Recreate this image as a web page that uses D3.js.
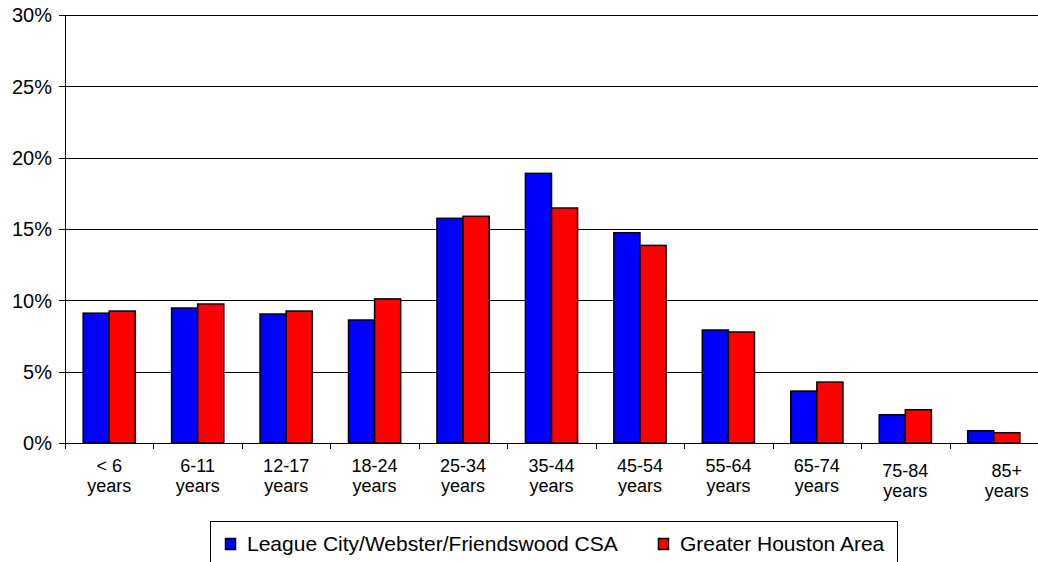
<!DOCTYPE html>
<html>
<head>
<meta charset="utf-8">
<script src="https://cdn.jsdelivr.net/npm/d3@7"></script>
<style>
  body { margin: 0; background: #fff; }
  text { font-family: "Liberation Sans", Arial, sans-serif; fill: #000; }
</style>
</head>
<body>
<svg id="chart"></svg>
<script>
(function () {
  'use strict';

  const categories = ["< 6|years", "6-11|years", "12-17|years", "18-24|years", "25-34|years",
    "35-44|years", "45-54|years", "55-64|years", "65-74|years", "75-84|years", "85+|years"];
  const seriesNames = ["League City/Webster/Friendswood CSA", "Greater Houston Area"];
  const leagueCity = [9.1, 9.46, 9.04, 8.62, 15.75, 18.9, 14.74, 7.92, 3.64, 1.98, 0.86];
  const houston = [9.25, 9.74, 9.25, 10.1, 15.89, 16.47, 13.85, 7.78, 4.27, 2.33, 0.72];
  const yTicks = [0, 5, 10, 15, 20, 25, 30];
  const colors = ["#0000ff", "#ff0000"];

  const width = 1038, height = 562;
  const margin = { top: 15, right: 0, bottom: 119, left: 65 };
  const innerW = width - margin.left - margin.right;
  const innerH = height - margin.top - margin.bottom;

  const svg = d3.select("#chart")
    .attr("width", width)
    .attr("height", height);

  const g = svg.append("g")
    .attr("transform", `translate(${margin.left},${margin.top})`);

  const x = d3.scaleBand()
    .domain(categories)
    .range([0, innerW])
    .paddingInner(0.41)
    .paddingOuter(0.205);

  const x1 = d3.scaleBand()
    .domain([0, 1])
    .range([0, x.bandwidth()]);

  const y = d3.scaleLinear()
    .domain([0, 30])
    .range([innerH, 0]);

  // gridlines + y axis
  g.append("g")
    .selectAll("line")
    .data(yTicks)
    .join("line")
    .attr("x1", -6)
    .attr("x2", innerW)
    .attr("y1", d => Math.round(y(d)) + 0.5)
    .attr("y2", d => Math.round(y(d)) + 0.5)
    .attr("stroke", "#000")
    .attr("stroke-width", 1);

  g.append("g")
    .selectAll("text")
    .data(yTicks)
    .join("text")
    .attr("x", -13)
    .attr("y", d => y(d))
    .attr("dy", "0.36em")
    .attr("text-anchor", "end")
    .style("font-size", "20px")
    .text(d => d + "%");

  g.append("line")
    .attr("x1", 0.5).attr("x2", 0.5)
    .attr("y1", 0).attr("y2", innerH)
    .attr("stroke", "#000");

  // x tick marks at category boundaries
  const step = x.step();
  g.append("g")
    .selectAll("line")
    .data(d3.range(categories.length + 1))
    .join("line")
    .attr("x1", i => Math.round(i * step) + 0.5)
    .attr("x2", i => Math.round(i * step) + 0.5)
    .attr("y1", innerH)
    .attr("y2", innerH + 6)
    .attr("stroke", "#000");

  // bars
  const groups = g.append("g")
    .selectAll("g")
    .data(categories)
    .join("g")
    .attr("transform", d => `translate(${x(d)},0)`);

  groups.selectAll("rect")
    .data((d, i) => [leagueCity[i], houston[i]])
    .join("rect")
    .attr("x", (d, j) => x1(j))
    .attr("y", d => y(d))
    .attr("width", x1.bandwidth())
    .attr("height", d => innerH - y(d))
    .attr("fill", (d, j) => colors[j])
    .attr("stroke", "#000")
    .attr("stroke-width", 1.5);

  // category labels
  const labels = g.append("g")
    .selectAll("text")
    .data(categories)
    .join("text")
    .attr("text-anchor", "middle")
    .style("font-size", "18px")
    .attr("transform", (d, i) => {
      const cx = x(d) + x.bandwidth() / 2 + (i === 10 ? 13 : 0);
      const cy = innerH + 29 + (i >= 9 ? 5 : 0);
      return `translate(${cx},${cy})`;
    });
  labels.selectAll("tspan")
    .data(d => d.split("|"))
    .join("tspan")
    .attr("x", 0)
    .attr("dy", (d, k) => k === 0 ? 0 : 20)
    .text(d => d);

  // legend
  const legend = svg.append("g").attr("transform", "translate(210,521)");
  legend.append("rect")
    .attr("x", 0.5).attr("y", 0.5)
    .attr("width", 687).attr("height", 50)
    .attr("fill", "#fff")
    .attr("stroke", "#000");

  const legendX = [15, 448];
  seriesNames.forEach((name, i) => {
    legend.append("rect")
      .attr("x", legendX[i] + 0.5)
      .attr("y", 17.5)
      .attr("width", 10)
      .attr("height", 11)
      .attr("fill", colors[i])
      .attr("stroke", "#000")
      .attr("stroke-width", 1.5);
    legend.append("text")
      .attr("x", legendX[i] + 22)
      .attr("y", 30)
      .style("font-size", "21px")
      .text(name);
  });
})();
</script>
</body>
</html>
